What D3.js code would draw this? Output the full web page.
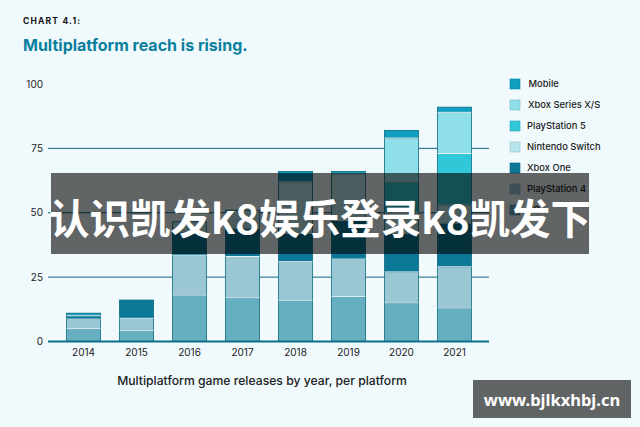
<!DOCTYPE html>
<html><head><meta charset="utf-8">
<script src="https://cdn.jsdelivr.net/npm/d3@7"></script>
<style>
html,body{margin:0;padding:0;background:#f0f9fc;overflow:hidden}
svg{display:block}
text{font-family:Inter,"Noto Sans",sans-serif}
</style></head><body>
<svg id="c" width="640" height="427"></svg>
<script>
const years=["2014","2015","2016","2017","2018","2019","2020","2021"];
const platforms=["PC","PlayStation 4","Xbox One","Nintendo Switch","PlayStation 5","Xbox Series X/S","Mobile"];
const colors=["#65afc0","#9bc7d4","#0a7896","#b8e6ec","#30c8d8","#8fdfe8","#0e9fc0"];
const legendOrder=["Mobile","Xbox Series X/S","PlayStation 5","Nintendo Switch","Xbox One","PlayStation 4","PC"];
const pc=[5,4.2,18,17,16,17.5,15,13];
const ps4=[3.7,4.8,15.5,16,15,14.5,12,16];
const xboxOne=[1.3,7.1,9,11,11,15,15,17];
const nintendoSwitch=[0,0,4,7,20,18,8,7];
const ps5=[0,0,0,0,0,0,12,20];
const xboxSeries=[0,0,0,0,0,0,17,16];
const mobile=[1,0,0,0,4,1,3,2];
const yTicks=[0,25,50,75,100];
const gridTicks=[25,50,75];
const xAxisTitle="Multiplatform game releases by year, per platform";

const svg=d3.select("#c");
const x=d3.scaleBand().domain(years).range([57,481]).paddingInner(.36).paddingOuter(.18);
const y=d3.scaleLinear().domain([0,100]).range([341.5,84]);
const color=d3.scaleOrdinal(platforms,colors);
const rows=years.map((yr,i)=>({year:yr,"PC":pc[i],"PlayStation 4":ps4[i],"Xbox One":xboxOne[i],"Nintendo Switch":nintendoSwitch[i],"PlayStation 5":ps5[i],"Xbox Series X/S":xboxSeries[i],"Mobile":mobile[i]}));
const stack=d3.stack().keys(platforms)(rows);

svg.append("text").attr("x",23).attr("y",24).attr("font-size",8.5).attr("font-weight",700).attr("letter-spacing",1.2).attr("fill","#111").text("CHART 4.1:");
svg.append("text").attr("x",23).attr("y",50.5).attr("font-size",16).attr("font-weight",700).attr("fill","#0a7f9e").text("Multiplatform reach is rising.");

svg.append("g").selectAll("line").data(gridTicks).join("line")
 .attr("x1",48).attr("x2",489).attr("y1",d=>y(d)).attr("y2",d=>y(d))
 .attr("stroke","#0b6a80").attr("stroke-width",1);

const ya=svg.append("g").attr("transform","translate(48,0)").call(d3.axisLeft(y).tickValues(yTicks).tickSize(0).tickPadding(5));
ya.select(".domain").remove();
ya.selectAll("text").attr("font-size",10).attr("font-family","Inter,sans-serif").attr("fill","#222");

const segs=svg.append("g").selectAll("g").data(stack).join("g").attr("fill",d=>color(d.key));
segs.selectAll("rect").data(d=>d.filter(p=>p[1]>p[0])).join("rect")
 .attr("x",d=>x(d.data.year)).attr("width",x.bandwidth())
 .attr("y",d=>y(d[1])).attr("height",d=>y(d[0])-y(d[1]))
 .attr("stroke","#0b6a80").attr("stroke-width",.8);
segs.selectAll("line").data(d=>d.filter(p=>p[1]>p[0]&&p[0]>0)).join("line")
 .attr("x1",d=>x(d.data.year)).attr("x2",d=>x(d.data.year)+x.bandwidth())
 .attr("y1",d=>y(d[0])).attr("y2",d=>y(d[0]))
 .attr("stroke","#e6f5f8").attr("stroke-width",1);

svg.append("line").attr("x1",48).attr("x2",489).attr("y1",y(0)).attr("y2",y(0)).attr("stroke","#0b6f8a").attr("stroke-width",2);

const xa=svg.append("g").attr("transform",`translate(0,${y(0)})`).call(d3.axisBottom(x).tickSize(0).tickPadding(7));
xa.select(".domain").remove();
xa.selectAll("text").attr("font-size",10).attr("font-family","Inter,sans-serif").attr("fill","#222");

svg.append("text").attr("x",262).attr("y",385).attr("text-anchor","middle").attr("font-size",12.2).attr("font-weight",500).attr("fill","#222").text(xAxisTitle);

const lg=d3.scalePoint().domain(legendOrder).range([84,210]);
const li=svg.append("g").selectAll("g").data(legendOrder).join("g").attr("transform",d=>`translate(510,${lg(d)})`);
li.append("rect").attr("x",0).attr("y",-5).attr("width",10).attr("height",10).attr("fill",d=>color(d)).attr("stroke",d=>d3.color(color(d)).darker(.5)).attr("stroke-width",.6);
li.append("text").attr("x",d=>d==="Mobile"?18.5:d==="Xbox Series X/S"?18:17).attr("y",3).attr("font-size",9.4).attr("font-weight",500).attr("fill","#222").text(d=>d);

svg.append("rect").attr("x",51).attr("y",173).attr("width",538).attr("height",81).attr("fill","#000").attr("opacity",.6);
svg.append("text").attr("x",320).attr("y",234).attr("text-anchor","middle").attr("font-size",40.5).attr("font-weight",700).attr("fill","#fff")
 .style("font-family",'"Noto Sans CJK SC",sans-serif').text("认识凯发k8娱乐登录k8凯发下");
svg.append("rect").attr("x",473).attr("y",380).attr("width",158).attr("height",38).attr("fill","#000").attr("opacity",.6);
svg.append("text").attr("x",552).attr("y",406).attr("text-anchor","middle").attr("font-size",16.5).attr("font-weight",700).attr("fill","#fff")
 .style("font-family",'"Noto Sans","Open Sans",sans-serif').text("www.bjlkxhbj.cn");
</script></body></html>
